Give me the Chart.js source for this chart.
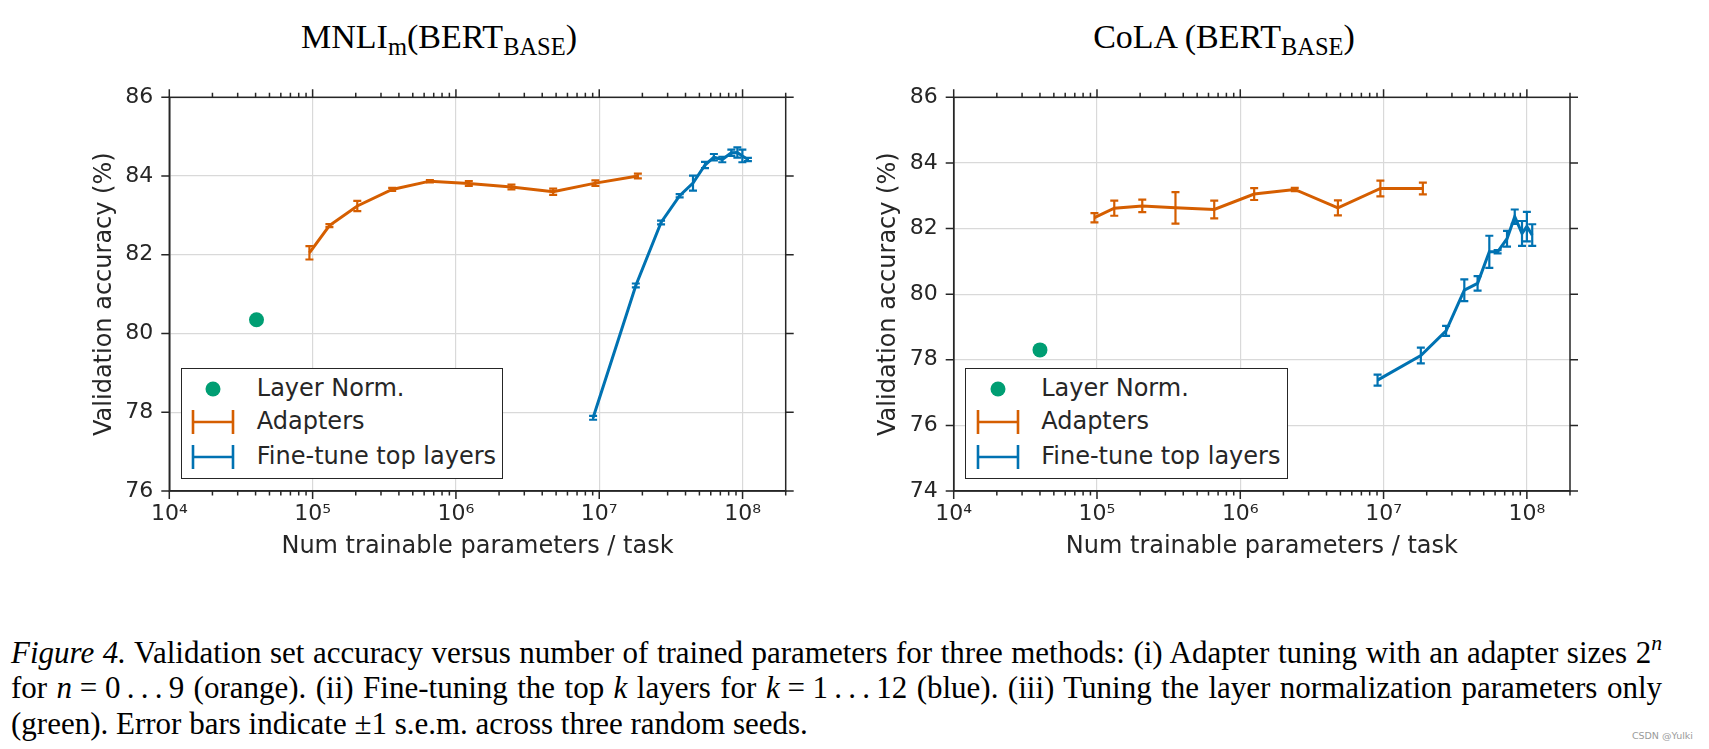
<!DOCTYPE html>
<html><head><meta charset="utf-8">
<script src="https://cdn.jsdelivr.net/npm/chart.js@4.4.1/dist/chart.umd.min.js"></script>
<style>
html,body{margin:0;padding:0;background:#fff;}
body{width:1709px;height:749px;overflow:hidden;position:relative;}
.title{position:absolute;font-family:"Liberation Serif","Times New Roman",serif;font-size:34px;color:#000;white-space:nowrap;transform:translateX(-50%);line-height:1;}
.title sub{font-size:72%;vertical-align:baseline;position:relative;top:0.32em;}
canvas{position:absolute;}
.legend{position:absolute;border:1.5px solid #262626;background:#fff;box-sizing:border-box;}
.legend .lt{position:absolute;font-family:"DejaVu Sans";font-size:24px;line-height:1;color:#262626;white-space:nowrap;}
.legend svg{position:absolute;}
.cap{position:absolute;left:11px;font-family:"Liberation Serif","Times New Roman",serif;font-size:31px;line-height:35.5px;color:#000;white-space:nowrap;}
.cap sup{font-size:70%;line-height:0;position:relative;top:-0.05em;}
.wm{position:absolute;right:16px;top:731px;font-family:"DejaVu Sans";font-size:9.5px;line-height:1;color:#9a9a9a;}
</style></head>
<body>
<div class="title" style="left:439px;top:19.5px">MNLI<sub>m</sub>(BERT<sub>BASE</sub>)</div>
<div class="title" style="left:1224px;top:19.5px">CoLA (BERT<sub>BASE</sub>)</div>
<canvas id="c1" width="840" height="560" style="left:0;top:60px;width:840px;height:560px"></canvas>
<canvas id="c2" width="919" height="560" style="left:790px;top:60px;width:919px;height:560px"></canvas>
<div class="cap j" style="top:634.5px"><i>Figure 4.</i> Validation set accuracy versus number of trained parameters for three methods: (i) Adapter tuning with an adapter sizes 2<sup><i>n</i></sup></div>
<div class="cap j" style="top:670px">for <i>n</i>&#8197;=&#8197;0&#8201;.&#8201;.&#8201;.&#8201;9 (orange). (ii) Fine-tuning the top <i>k</i> layers for <i>k</i>&#8197;=&#8197;1&#8201;.&#8201;.&#8201;.&#8201;12 (blue). (iii) Tuning the layer normalization parameters only</div>
<div class="cap" style="top:705.5px">(green). Error bars indicate ±1 s.e.m. across three random seeds.</div>
<div class="wm">CSDN @Yulki</div>
<script>
// ---------- data ----------
const legendLabels = ['Layer Norm.', 'Adapters', 'Fine-tune top layers'];
const xTickValues = [1e4, 1e5, 1e6, 1e7, 1e8];
const xTickLabels = ['10⁴', '10⁵', '10⁶', '10⁷', '10⁸'];
const mnliYTicks = [76, 78, 80, 82, 84, 86];
const colaYTicks = [74, 76, 78, 80, 82, 84, 86];

// MNLI-m
const mnliLayerNormX = [4.06e4];
const mnliLayerNormY = [80.35];
const mnliAdapterX = [9.5e4, 1.31e5, 2.05e5, 3.59e5, 6.58e5, 1.23e6, 2.44e6, 4.77e6, 9.4e6, 1.86e7];
const mnliAdapterY = [82.05, 82.74, 83.24, 83.66, 83.87, 83.81, 83.72, 83.60, 83.82, 84.00];
const mnliAdapterErr = [0.17, 0.04, 0.13, 0.04, 0.03, 0.06, 0.06, 0.08, 0.07, 0.06];
const mnliFineX = [9.06e6, 1.80e7, 2.70e7, 3.64e7, 4.51e7, 5.47e7, 6.31e7, 7.22e7, 8.35e7, 9.2e7, 9.97e7, 1.09e8];
const mnliFineY = [77.86, 81.22, 82.82, 83.50, 83.82, 84.28, 84.48, 84.42, 84.59, 84.60, 84.51, 84.42];
const mnliFineErr = [0.05, 0.05, 0.05, 0.04, 0.19, 0.08, 0.08, 0.07, 0.08, 0.13, 0.16, 0.04];

// CoLA
const colaLayerNormX = [4.0e4];
const colaLayerNormY = [78.30];
const colaAdapterX = [9.6e4, 1.32e5, 2.07e5, 3.53e5, 6.58e5, 1.25e6, 2.40e6, 4.8e6, 9.5e6, 1.88e7];
const colaAdapterY = [82.33, 82.62, 82.69, 82.63, 82.58, 83.05, 83.19, 82.63, 83.22, 83.22];
const colaAdapterErr = [0.14, 0.23, 0.19, 0.48, 0.27, 0.18, 0.05, 0.23, 0.24, 0.18];
const colaFineX = [9.08e6, 1.82e7, 2.73e7, 3.66e7, 4.53e7, 5.47e7, 6.25e7, 7.27e7, 8.23e7, 9.25e7, 1.0e8, 1.09e8];
const colaFineY = [77.38, 78.13, 78.88, 80.12, 80.33, 81.29, 81.29, 81.69, 82.36, 81.85, 82.06, 81.80];
const colaFineErr = [0.17, 0.24, 0.15, 0.33, 0.22, 0.49, 0.05, 0.24, 0.22, 0.38, 0.45, 0.33];

// ---------- caption justification ----------
document.querySelectorAll('.cap.j').forEach(el => {
  const target = 1651;
  const w = el.getBoundingClientRect().width;
  const spaces = (el.textContent.match(/ /g) || []).length;
  el.style.wordSpacing = ((target - w) / spaces) + 'px';
});

// ---------- styling ----------
const GREEN = '#009E73', ORANGE = '#D55E00', BLUE = '#0072B2', INK = '#262626', GRID = '#d9d9d9';
const pts = (xs, ys) => xs.map((x, i) => ({x, y: ys[i]}));

const errorBars = {
  id: 'errorBars',
  afterDatasetsDraw(chart) {
    const {ctx, scales: {x, y}} = chart;
    chart.data.datasets.forEach(ds => {
      if (!ds.errors) return;
      ctx.save();
      ctx.strokeStyle = ds.borderColor; ctx.lineWidth = 2.2; ctx.lineCap = 'butt';
      ds.data.forEach((p, j) => {
        const e = ds.errors[j];
        const px = x.getPixelForValue(p.x);
        const y1 = y.getPixelForValue(p.y - e), y2 = y.getPixelForValue(p.y + e);
        ctx.beginPath();
        ctx.moveTo(px, y1); ctx.lineTo(px, y2);
        ctx.moveTo(px - 4, y1); ctx.lineTo(px + 4, y1);
        ctx.moveTo(px - 4, y2); ctx.lineTo(px + 4, y2);
        ctx.stroke();
      });
      ctx.restore();
    });
  }
};

const frame = {
  id: 'frame',
  afterDraw(chart) {
    const {ctx, chartArea: a, scales: {x, y}} = chart;
    ctx.save();
    ctx.strokeStyle = INK; ctx.lineWidth = 1.5;
    ctx.strokeRect(a.left, a.top, a.right - a.left, a.bottom - a.top);
    ctx.beginPath();
    y.ticks.forEach(t => {
      const py = y.getPixelForValue(t.value);
      ctx.moveTo(a.left - 8, py); ctx.lineTo(a.left, py);
      ctx.moveTo(a.right, py); ctx.lineTo(a.right + 8, py);
    });
    xTickValues.forEach(d => {
      for (let k = 1; k <= 9; k++) {
        const v = k * d;
        if (v < x.min || v > x.max) continue;
        const px = x.getPixelForValue(v);
        const L = k === 1 ? 8 : 4.5;
        ctx.moveTo(px, a.bottom); ctx.lineTo(px, a.bottom + L);
        ctx.moveTo(px, a.top); ctx.lineTo(px, a.top - L);
      }
    });
    ctx.stroke();
    ctx.restore();
  }
};

function build(canvasId, d, opt) {
  return new Chart(document.getElementById(canvasId), {
    type: 'scatter',
    data: {
      datasets: [
        {label: legendLabels[0], data: pts(d.lnX, d.lnY), backgroundColor: GREEN, borderWidth: 0, pointRadius: 7.5, showLine: false, order: 0},
        {label: legendLabels[1], data: pts(d.adX, d.adY), errors: d.adE, borderColor: ORANGE, backgroundColor: ORANGE, borderWidth: 3, pointRadius: 0, showLine: true, tension: 0, order: 2},
        {label: legendLabels[2], data: pts(d.ftX, d.ftY), errors: d.ftE, borderColor: BLUE, backgroundColor: BLUE, borderWidth: 3, pointRadius: 0, showLine: true, tension: 0, order: 1}
      ]
    },
    options: {
      responsive: false, animation: false, devicePixelRatio: 1,
      layout: {padding: {top: 37.3, right: opt.padRight, bottom: 0, left: 0}},
      plugins: {legend: {display: false}, tooltip: {enabled: false}},
      scales: {
        x: {
          type: 'logarithmic', min: 1e4, max: 2e8,
          afterBuildTicks: s => { s.ticks = xTickValues.map(v => ({value: v})); },
          afterFit: s => { s.height = 129; },
          ticks: {callback: (v, i) => xTickLabels[i], font: {family: 'DejaVu Sans', size: 22}, color: INK, padding: 10, maxRotation: 0, autoSkip: false},
          grid: {color: GRID, lineWidth: 1.2, drawTicks: false},
          border: {display: true, color: INK, width: 1.5},
          title: {display: true, text: 'Num trainable parameters / task', font: {family: 'DejaVu Sans', size: 24, lineHeight: 1.2}, color: INK, padding: {top: 0, bottom: 59}}
        },
        y: {
          type: 'linear', min: opt.yMin, max: 86,
          afterBuildTicks: s => { s.ticks = opt.yTicks.map(v => ({value: v})); },
          afterFit: s => { s.width = opt.yWidth; },
          ticks: {font: {family: 'DejaVu Sans', size: 22}, color: INK, padding: 16},
          grid: {color: GRID, lineWidth: 1.2, drawTicks: false},
          border: {display: true, color: INK, width: 1.5},
          title: {display: true, text: 'Validation accuracy (%)', font: {family: 'DejaVu Sans', size: 24, lineHeight: 1.2}, color: INK, padding: {top: opt.titlePad, bottom: 0}}
        }
      }
    },
    plugins: [errorBars, frame]
  });
}

function addLegend(chart, canvasLeft, canvasTop) {
  const a = chart.chartArea;
  const box = document.createElement('div');
  box.className = 'legend';
  const L = canvasLeft + a.left + 11.4, T = canvasTop + a.bottom - 122.7;
  box.style.left = L + 'px'; box.style.top = T + 'px';
  box.style.width = '322.5px'; box.style.height = '110.7px';
  const rowsY = [21, 54.2, 89.2];
  const colors = [GREEN, ORANGE, BLUE];
  legendLabels.forEach((lab, i) => {
    const svg = document.createElementNS('http://www.w3.org/2000/svg', 'svg');
    svg.setAttribute('width', '50'); svg.setAttribute('height', '30');
    svg.style.left = (33.3 - 25 - 1.5) + 'px'; svg.style.top = (rowsY[i] - 15 - 1.5) + 'px';
    if (i === 0) {
      svg.innerHTML = `<circle cx="25" cy="15" r="7.5" fill="${colors[i]}"/>`;
    } else {
      svg.innerHTML = `<path d="M5 3 V27 M45 3 V27 M5 15 H45" stroke="${colors[i]}" stroke-width="2.6" fill="none"/>`;
    }
    box.appendChild(svg);
    const t = document.createElement('div');
    t.className = 'lt'; t.textContent = lab;
    t.style.left = (76.6 - 1.5) + 'px';
    t.style.top = (rowsY[i] + 7.5 - 20.3 - 1.5) + 'px';
    box.appendChild(t);
  });
  document.body.appendChild(box);
}

const ch1 = build('c1', {lnX: mnliLayerNormX, lnY: mnliLayerNormY, adX: mnliAdapterX, adY: mnliAdapterY, adE: mnliAdapterErr, ftX: mnliFineX, ftY: mnliFineY, ftE: mnliFineErr},
  {yMin: 76, yTicks: mnliYTicks, yWidth: 169.3, padRight: 54.3, titlePad: 90.2});
const ch2 = build('c2', {lnX: colaLayerNormX, lnY: colaLayerNormY, adX: colaAdapterX, adY: colaAdapterY, adE: colaAdapterErr, ftX: colaFineX, ftY: colaFineY, ftE: colaFineErr},
  {yMin: 74, yTicks: colaYTicks, yWidth: 163.7, padRight: 139, titlePad: 84.6});
addLegend(ch1, 0, 60);
addLegend(ch2, 790, 60);
</script>
</body></html>
